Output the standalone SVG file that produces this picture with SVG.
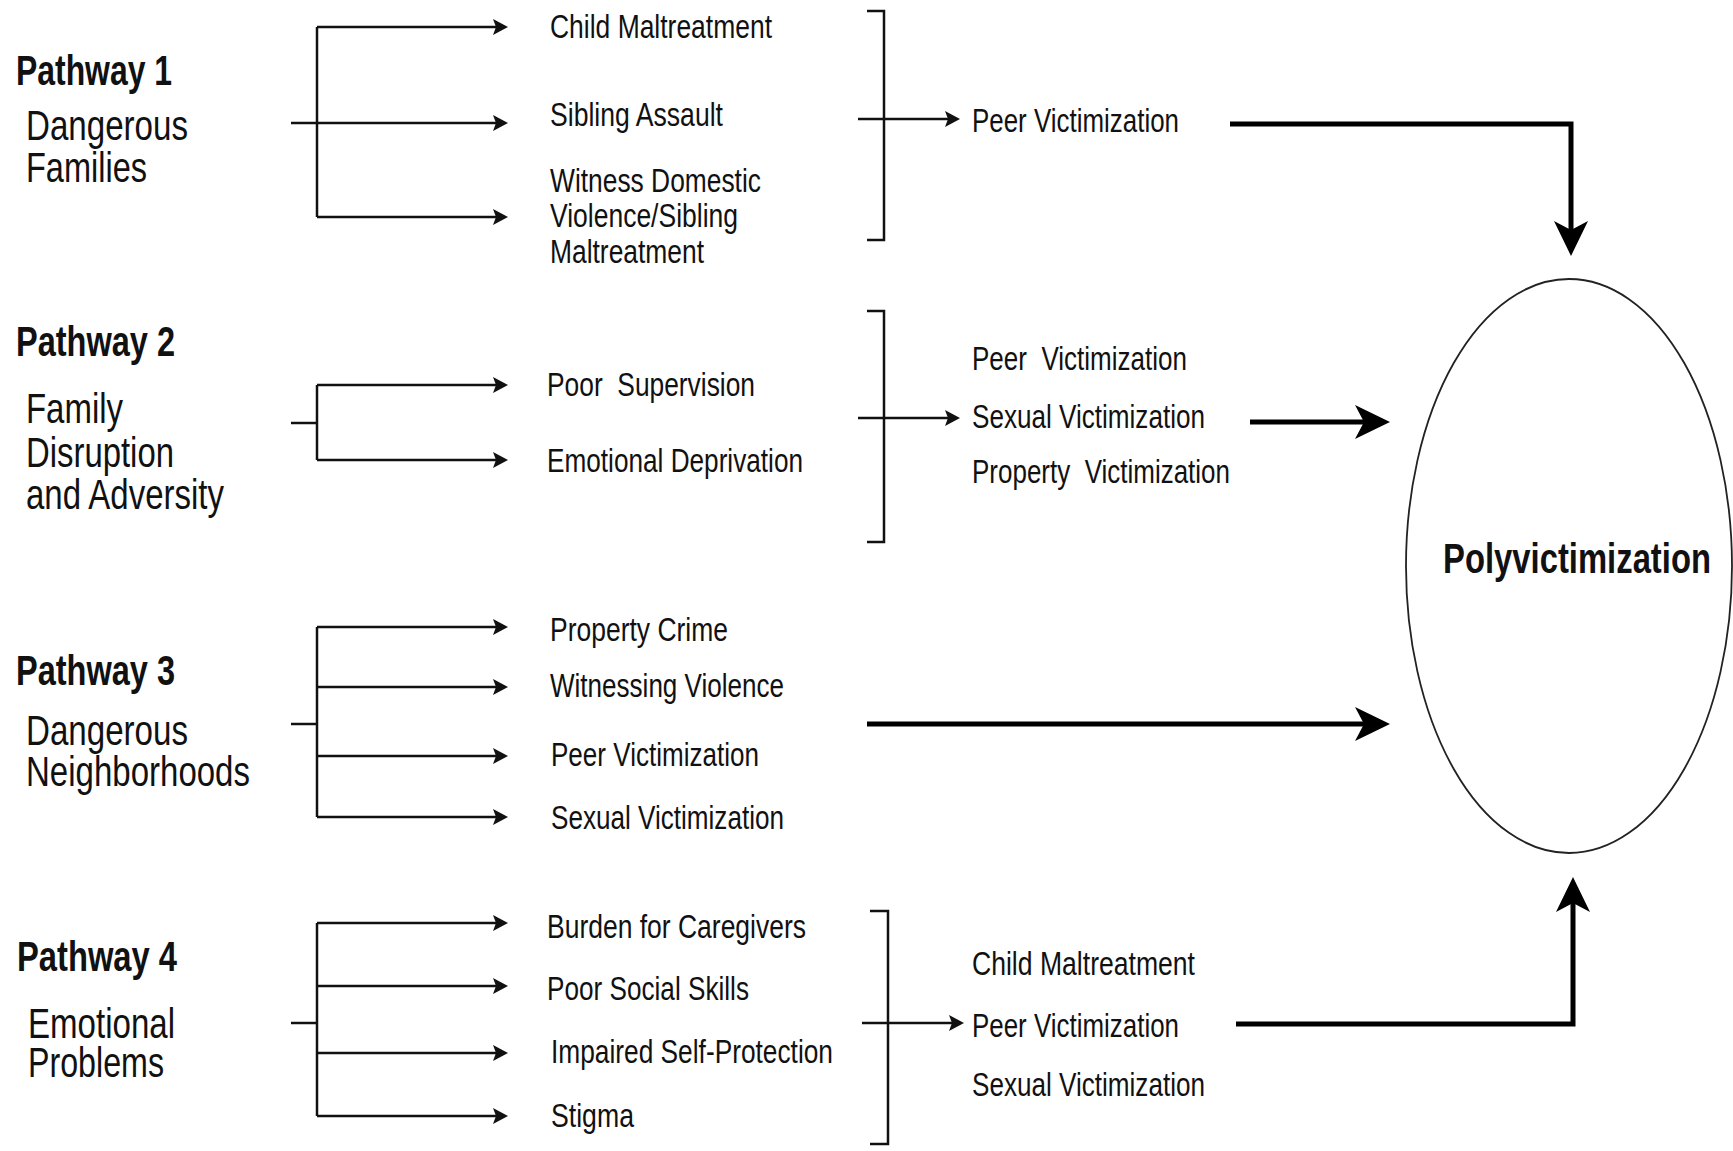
<svg xmlns="http://www.w3.org/2000/svg" width="1733" height="1151" viewBox="0 0 1733 1151">
<style>
text{font-family:"Liberation Sans",Arial,sans-serif;fill:#111;}
.ph{font-weight:bold;font-size:42px;}
.sub{font-size:43px;}
.it{font-size:33px;}
.pv{font-weight:bold;font-size:43px;}
.thin{fill:none;stroke:#111;stroke-width:2.5;}
.thick{fill:none;stroke:#000;stroke-width:5;}
.ell{fill:none;stroke:#222;stroke-width:1.8;}
</style>
<defs>
<marker id="ah" markerUnits="userSpaceOnUse" markerWidth="16" markerHeight="18" refX="11" refY="8" orient="auto">
<path d="M0,0 L15,8 L0,16 L3,8 z" fill="#111"/>
</marker>
<marker id="AH" markerUnits="userSpaceOnUse" markerWidth="36" markerHeight="36" refX="28" refY="17" orient="auto">
<path d="M0,0 L35,17 L0,34 L9,17 z" fill="#000"/>
</marker>
</defs>

<g id="connectors">
<!-- Pathway 1 fan -->
<path class="thin" d="M317,27 V217"/>
<path class="thin" d="M317,27 H504" marker-end="url(#ah)"/>
<path class="thin" d="M291,123 H504" marker-end="url(#ah)"/>
<path class="thin" d="M317,217 H504" marker-end="url(#ah)"/>
<!-- Pathway 1 bracket -->
<path class="thin" d="M867,11 H884 V240 H867"/>
<path class="thin" d="M858,119 H956" marker-end="url(#ah)"/>
<path class="thick" d="M1230,124 H1571 V249" marker-end="url(#AH)"/>

<!-- Pathway 2 fan -->
<path class="thin" d="M291,423 H317"/>
<path class="thin" d="M317,385 V460"/>
<path class="thin" d="M317,385 H504" marker-end="url(#ah)"/>
<path class="thin" d="M317,460 H504" marker-end="url(#ah)"/>
<path class="thin" d="M867,311 H884 V542 H867"/>
<path class="thin" d="M858,418 H956" marker-end="url(#ah)"/>
<path class="thick" d="M1250,422 H1383" marker-end="url(#AH)"/>

<!-- Pathway 3 fan -->
<path class="thin" d="M291,724 H317"/>
<path class="thin" d="M317,627 V817"/>
<path class="thin" d="M317,627 H504" marker-end="url(#ah)"/>
<path class="thin" d="M317,687 H504" marker-end="url(#ah)"/>
<path class="thin" d="M317,756 H504" marker-end="url(#ah)"/>
<path class="thin" d="M317,817 H504" marker-end="url(#ah)"/>
<path class="thick" d="M867,724 H1383" marker-end="url(#AH)"/>

<!-- Pathway 4 fan -->
<path class="thin" d="M291,1023 H317"/>
<path class="thin" d="M317,923 V1116"/>
<path class="thin" d="M317,923 H504" marker-end="url(#ah)"/>
<path class="thin" d="M317,986 H504" marker-end="url(#ah)"/>
<path class="thin" d="M317,1053 H504" marker-end="url(#ah)"/>
<path class="thin" d="M317,1116 H504" marker-end="url(#ah)"/>
<path class="thin" d="M870,911 H888 V1144 H870"/>
<path class="thin" d="M862,1023 H960" marker-end="url(#ah)"/>
<path class="thick" d="M1236,1024 H1573 V884" marker-end="url(#AH)"/>
</g>

<g id="pathway1">
<text class="ph" x="16" y="85" textLength="156" lengthAdjust="spacingAndGlyphs">Pathway 1</text>
<text class="sub" x="26" y="140" textLength="162" lengthAdjust="spacingAndGlyphs">Dangerous</text>
<text class="sub" x="26" y="182" textLength="121" lengthAdjust="spacingAndGlyphs">Families</text>
</g>
<g id="p1-items">
<text class="it" x="550" y="38" textLength="222" lengthAdjust="spacingAndGlyphs">Child Maltreatment</text>
<text class="it" x="550" y="126" textLength="173" lengthAdjust="spacingAndGlyphs">Sibling Assault</text>
<text class="it" x="550" y="192" textLength="211" lengthAdjust="spacingAndGlyphs">Witness Domestic</text>
<text class="it" x="550" y="227" textLength="188" lengthAdjust="spacingAndGlyphs">Violence/Sibling</text>
<text class="it" x="550" y="263" textLength="154" lengthAdjust="spacingAndGlyphs">Maltreatment</text>
</g>
<g id="p1-outcome">
<text class="it" x="972" y="132" textLength="207" lengthAdjust="spacingAndGlyphs">Peer Victimization</text>
</g>

<g id="pathway2">
<text class="ph" x="16" y="356" textLength="159" lengthAdjust="spacingAndGlyphs">Pathway 2</text>
<text class="sub" x="26" y="423" textLength="97" lengthAdjust="spacingAndGlyphs">Family</text>
<text class="sub" x="26" y="467" textLength="148" lengthAdjust="spacingAndGlyphs">Disruption</text>
<text class="sub" x="26" y="509" textLength="198" lengthAdjust="spacingAndGlyphs">and Adversity</text>
</g>
<g id="p2-items">
<text class="it" x="547" y="396" xml:space="preserve" textLength="208" lengthAdjust="spacingAndGlyphs">Poor  Supervision</text>
<text class="it" x="547" y="472" textLength="256" lengthAdjust="spacingAndGlyphs">Emotional Deprivation</text>
</g>
<g id="p2-outcome">
<text class="it" x="972" y="370" xml:space="preserve" textLength="215" lengthAdjust="spacingAndGlyphs">Peer  Victimization</text>
<text class="it" x="972" y="428" textLength="233" lengthAdjust="spacingAndGlyphs">Sexual Victimization</text>
<text class="it" x="972" y="483" xml:space="preserve" textLength="258" lengthAdjust="spacingAndGlyphs">Property  Victimization</text>
</g>

<g id="pathway3">
<text class="ph" x="16" y="685" textLength="159" lengthAdjust="spacingAndGlyphs">Pathway 3</text>
<text class="sub" x="26" y="745" textLength="162" lengthAdjust="spacingAndGlyphs">Dangerous</text>
<text class="sub" x="26" y="786" textLength="224" lengthAdjust="spacingAndGlyphs">Neighborhoods</text>
</g>
<g id="p3-items">
<text class="it" x="550" y="641" textLength="178" lengthAdjust="spacingAndGlyphs">Property Crime</text>
<text class="it" x="550" y="697" textLength="234" lengthAdjust="spacingAndGlyphs">Witnessing Violence</text>
<text class="it" x="551" y="766" textLength="208" lengthAdjust="spacingAndGlyphs">Peer Victimization</text>
<text class="it" x="551" y="829" textLength="233" lengthAdjust="spacingAndGlyphs">Sexual Victimization</text>
</g>

<g id="pathway4">
<text class="ph" x="17" y="971" textLength="160" lengthAdjust="spacingAndGlyphs">Pathway 4</text>
<text class="sub" x="28" y="1038" textLength="147" lengthAdjust="spacingAndGlyphs">Emotional</text>
<text class="sub" x="28" y="1077" textLength="136" lengthAdjust="spacingAndGlyphs">Problems</text>
</g>
<g id="p4-items">
<text class="it" x="547" y="938" textLength="259" lengthAdjust="spacingAndGlyphs">Burden for Caregivers</text>
<text class="it" x="547" y="1000" textLength="202" lengthAdjust="spacingAndGlyphs">Poor Social Skills</text>
<text class="it" x="551" y="1063" textLength="282" lengthAdjust="spacingAndGlyphs">Impaired Self-Protection</text>
<text class="it" x="551" y="1127" textLength="83" lengthAdjust="spacingAndGlyphs">Stigma</text>
</g>
<g id="p4-outcome">
<text class="it" x="972" y="975" textLength="223" lengthAdjust="spacingAndGlyphs">Child Maltreatment</text>
<text class="it" x="972" y="1037" textLength="207" lengthAdjust="spacingAndGlyphs">Peer Victimization</text>
<text class="it" x="972" y="1096" textLength="233" lengthAdjust="spacingAndGlyphs">Sexual Victimization</text>
</g>

<g id="polyvictimization">
<ellipse class="ell" cx="1569" cy="566" rx="163" ry="287"/>
<text class="pv" x="1443" y="573" textLength="268" lengthAdjust="spacingAndGlyphs">Polyvictimization</text>
</g>
</svg>
